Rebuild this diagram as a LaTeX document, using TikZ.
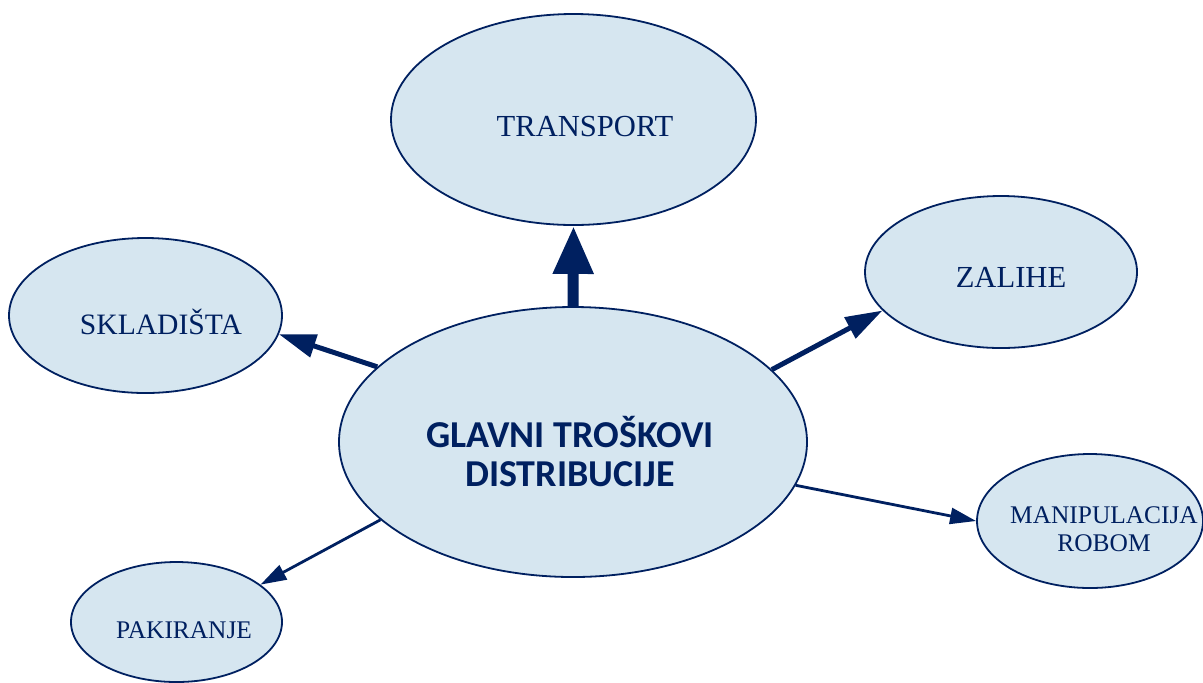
\documentclass[tikz,border=0pt]{standalone}
\usepackage{fontspec}
\setmainfont{Liberation Serif}
\newfontfamily\calibri{Carlito}
\usepackage{tikz}
\usetikzlibrary{shapes.geometric, arrows.meta}

\definecolor{navy}{RGB}{0,32,96}
\definecolor{lightblue}{RGB}{214,230,240}

\tikzset{
    bubble/.style={ellipse, draw=navy, fill=lightblue, line width=0.9pt, inner sep=0pt},
    bubbletext/.style={text=navy, align=center},
    bigarrow/.style={draw=navy, line width=5.5pt, -{Triangle[length=24pt,width=19pt]}},
    midarrow/.style={draw=navy, line width=2.5pt, -{Triangle[length=18.5pt,width=11.5pt]}},
    thinarrow/.style={draw=navy, line width=1.4pt, -{Triangle[length=13pt,width=8pt]}}
}

\begin{document}
\begin{tikzpicture}[x=0.5pt, y=-0.5pt]
        \useasboundingbox (0,0) rectangle (1203,682);

        \node[bubble, minimum width=234pt, minimum height=135pt,
              label={[bubbletext, font={\calibri\bfseries\fontsize{19}{19.5}\selectfont}, xshift=-1.5pt, yshift=-5pt]center:{GLAVNI TROŠKOVI\\DISTRIBUCIJE}}]
              (glavni) at (573,442) {};

        \node[bubble, minimum width=182.5pt, minimum height=105.5pt,
              label={[bubbletext, font={\fontsize{15.3}{18}\selectfont}, xshift=5.75pt, yshift=-3.75pt]center:TRANSPORT}]
              (transport) at (573.5,119.5) {};
        \node[bubble, minimum width=136.5pt, minimum height=77.5pt,
              label={[bubbletext, font={\fontsize{14.8}{17}\selectfont}, xshift=7.75pt, yshift=-3.25pt]center:SKLADIŠTA}]
              (skladista) at (145.5,315.5) {};
        \node[bubble, minimum width=136pt, minimum height=76pt,
              label={[bubbletext, font={\fontsize{15.3}{18}\selectfont}, xshift=5pt, yshift=-2.5pt]center:ZALIHE}]
              (zalihe) at (1001,272) {};
        \node[bubble, minimum width=113pt, minimum height=67pt,
              label={[bubbletext, font={\fontsize{12.7}{14}\selectfont}, xshift=7pt, yshift=-4pt]center:{MANIPULACIJA\\ROBOM}}]
              (manipulacija) at (1090,521) {};
        \node[bubble, minimum width=105.5pt, minimum height=60pt,
              label={[bubbletext, font={\fontsize{12.7}{15}\selectfont}, xshift=3.75pt, yshift=-4pt]center:PAKIRANJE}]
              (pakiranje) at (176.5,622) {};

        \draw[bigarrow] (glavni.90) -- (transport.-90);
        \draw[midarrow] (glavni.159) -- (skladista.-8);
        \draw[midarrow] (glavni.20) -- (zalihe.198);
        \draw[thinarrow] (glavni.-11.5) -- (manipulacija.180);
        \draw[thinarrow] (glavni.-158.7) -- (pakiranje.24);
    \end{tikzpicture}
\end{document}
